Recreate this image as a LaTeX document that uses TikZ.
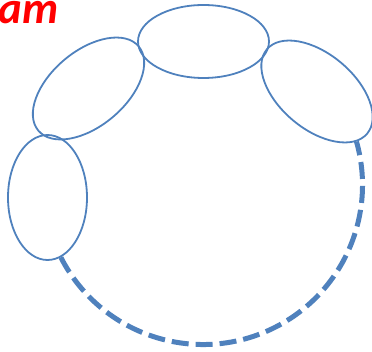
\documentclass[tikz,border=0pt]{standalone}
\usepackage{fontspec}
\setmainfont{Carlito}
\usetikzlibrary{shapes.geometric}
\definecolor{ringblue}{HTML}{4F81BD}
\definecolor{titlered}{HTML}{FF0000}
\begin{document}
\begin{tikzpicture}[x=1pt,y=-1pt,
  bead/.style={draw=ringblue,line width=1.8pt,ellipse,inner sep=0pt,fill=none},
  ringdash/.style={draw=ringblue,line width=5pt,dash pattern=on 17pt off 7pt}]
\useasboundingbox (0,0) rectangle (372,352);
\node[text=titlered,font=\bfseries\itshape\fontsize{45}{45}\selectfont,anchor=base east,inner sep=0pt] (title) at (58.5,24) {am};
\node[bead,minimum width=131pt,minimum height=73pt] (top) at (203.5,41.5) {};
\node[bead,minimum width=131pt,minimum height=75pt,rotate=-40] (right) at (317,91.5) {};
\node[bead,minimum width=131pt,minimum height=75pt,rotate=40] (upleft) at (88.5,88.5) {};
\node[bead,minimum width=79pt,minimum height=125pt] (left) at (47.5,197.5) {};
\coordinate (ringc) at (203,185);
\draw[ringdash] ([shift={(207:159.5pt)}]ringc) arc[start angle=207,end angle=375.8,radius=159.5pt];
\end{tikzpicture}
\end{document}
